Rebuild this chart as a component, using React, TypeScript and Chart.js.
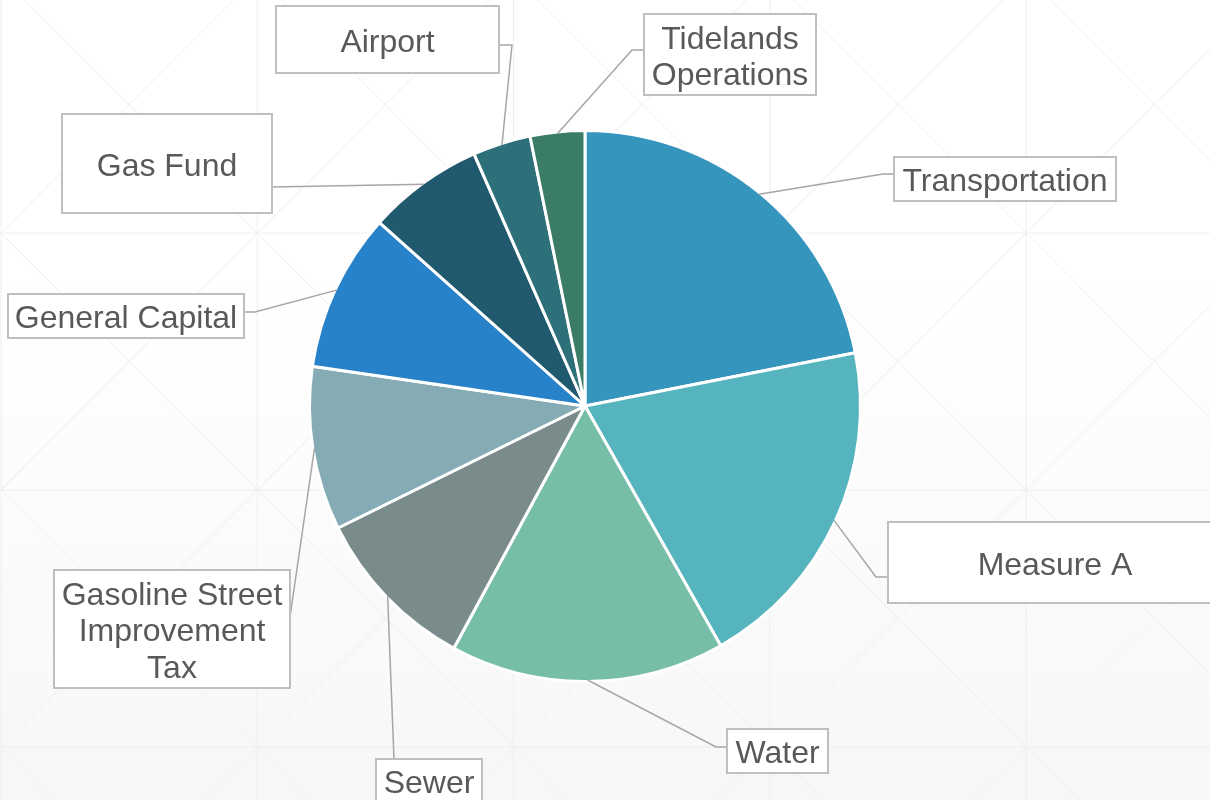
import React, { useEffect, useRef } from 'react';
import { Chart, registerables } from 'chart.js';

Chart.register(...registerables);

// ---- Data ----
const categories = [
  'Transportation',
  'Measure A',
  'Water',
  'Sewer',
  'Gasoline Street Improvement Tax',
  'General Capital',
  'Gas Fund',
  'Airport',
  'Tidelands Operations',
];
const shares = [21.9, 19.9, 16.1, 9.8, 9.6, 9.3, 6.8, 3.4, 3.2];
const labelLines = [
  ['Transportation'],
  ['Measure A'],
  ['Water'],
  ['Sewer'],
  ['Gasoline Street', 'Improvement', 'Tax'],
  ['General Capital'],
  ['Gas Fund'],
  ['Airport'],
  ['Tidelands', 'Operations'],
];
const sliceColors = [
  '#3595BD',
  '#56B4BF',
  '#76BEA7',
  '#7A8B8C',
  '#85ABB4',
  '#2782C9',
  '#215A6F',
  '#2D7079',
  '#3B7C67',
];

// ---- Callout layout (box: x, y, w, h; path: leader points after the slice anchor) ----
const calloutLayout = [
  { box: [894, 157, 222, 44], path: [[883, 174], [894, 174]] },
  { box: [888, 522, 334, 81], path: [[876, 577], [888, 577]] },
  { box: [727, 729, 101, 44], path: [[716, 747], [727, 747]] },
  { box: [376, 759, 106, 44], path: [[394, 759]] },
  { box: [54, 570, 236, 118], path: [[290, 617]] },
  { box: [8, 294, 236, 44], path: [[255, 312], [244, 312]] },
  { box: [62, 114, 210, 99], path: [[272, 187]] },
  { box: [276, 6, 223, 67], path: [[512, 45], [499, 45]] },
  { box: [644, 14, 172, 81], path: [[632, 50], [644, 50]] },
];

const backgroundPlugin = {
  id: 'patternBackground',
  beforeDraw(chart: any) {
    const { ctx, width, height } = chart;
    ctx.save();
    const g = ctx.createLinearGradient(0, 0, 0, height);
    g.addColorStop(0, '#ffffff');
    g.addColorStop(0.35, '#ffffff');
    g.addColorStop(1, '#f7f7f7');
    ctx.fillStyle = g;
    ctx.fillRect(0, 0, width, height);
    ctx.strokeStyle = '#eeeeee';
    ctx.lineWidth = 1;
    const cw = 256.3;
    const ch = 257;
    const y0 = 233 - ch;
    ctx.beginPath();
    for (let i = 0; i <= 5; i++) {
      const x = i * cw + 1;
      ctx.moveTo(x, 0);
      ctx.lineTo(x, height);
    }
    for (let j = 0; j <= 4; j++) {
      const y = y0 + j * ch;
      ctx.moveTo(0, y);
      ctx.lineTo(width, y);
    }
    for (let i = 0; i < 5; i++) {
      for (let j = 0; j < 4; j++) {
        const xa = i * cw + 1;
        const xb = xa + cw;
        const ya = y0 + j * ch;
        const yb = ya + ch;
        ctx.moveTo(xa, ya);
        ctx.lineTo(xb, yb);
        ctx.moveTo(xb, ya);
        ctx.lineTo(xa, yb);
      }
    }
    ctx.stroke();
    ctx.restore();
  },
};

const calloutPlugin = {
  id: 'callouts',
  afterDatasetsDraw(chart: any) {
    const { ctx } = chart;
    const meta = chart.getDatasetMeta(0);
    ctx.save();
    meta.data.forEach((arc: any, i: number) => {
      const p = arc.getProps(['x', 'y', 'startAngle', 'endAngle', 'outerRadius'], true);
      const mid = (p.startAngle + p.endAngle) / 2;
      const r = p.outerRadius - 1.5;
      const ax = p.x + Math.cos(mid) * r;
      const ay = p.y + Math.sin(mid) * r;
      const lay = calloutLayout[i];
      // leader line
      ctx.strokeStyle = '#a6a6a6';
      ctx.lineWidth = 1.5;
      ctx.beginPath();
      ctx.moveTo(ax, ay);
      lay.path.forEach((pt: number[]) => ctx.lineTo(pt[0], pt[1]));
      ctx.stroke();
      // box
      const [bx, by, bw, bh] = lay.box;
      ctx.fillStyle = '#ffffff';
      ctx.fillRect(bx, by, bw, bh);
      ctx.strokeStyle = '#bfbfbf';
      ctx.lineWidth = 2;
      ctx.strokeRect(bx, by, bw, bh);
      // text
      ctx.fillStyle = '#595959';
      ctx.font = '32px "Liberation Sans", Arial, sans-serif';
      ctx.textAlign = 'center';
      ctx.textBaseline = 'middle';
      const lines = labelLines[i];
      const lh = 36.5;
      const cx = bx + bw / 2;
      const cy = by + bh / 2 + 3.5;
      lines.forEach((t, k) => {
        ctx.fillText(t, cx, cy + (k - (lines.length - 1) / 2) * lh);
      });
    });
    ctx.restore();
  },
};

export default function App() {
  const canvasRef = useRef<HTMLCanvasElement | null>(null);

  useEffect(() => {
    document.body.style.margin = '0';
    const canvas = canvasRef.current;
    if (!canvas) return;
    const chart = new Chart(canvas, {
      type: 'pie',
      data: {
        labels: categories,
        datasets: [
          {
            data: shares,
            backgroundColor: sliceColors,
            borderColor: '#ffffff',
            borderWidth: 3,
          },
        ],
      },
      options: {
        animation: false,
        responsive: true,
        maintainAspectRatio: false,
        layout: { padding: { top: 129, bottom: 117, left: 308, right: 348 } },
        plugins: {
          legend: { display: false },
          tooltip: { enabled: false },
        },
      },
      plugins: [backgroundPlugin, calloutPlugin],
    });
    return () => chart.destroy();
  }, []);

  return (
    <div style={{ position: 'relative', width: 1210, height: 800 }}>
      <canvas ref={canvasRef} />
    </div>
  );
}
